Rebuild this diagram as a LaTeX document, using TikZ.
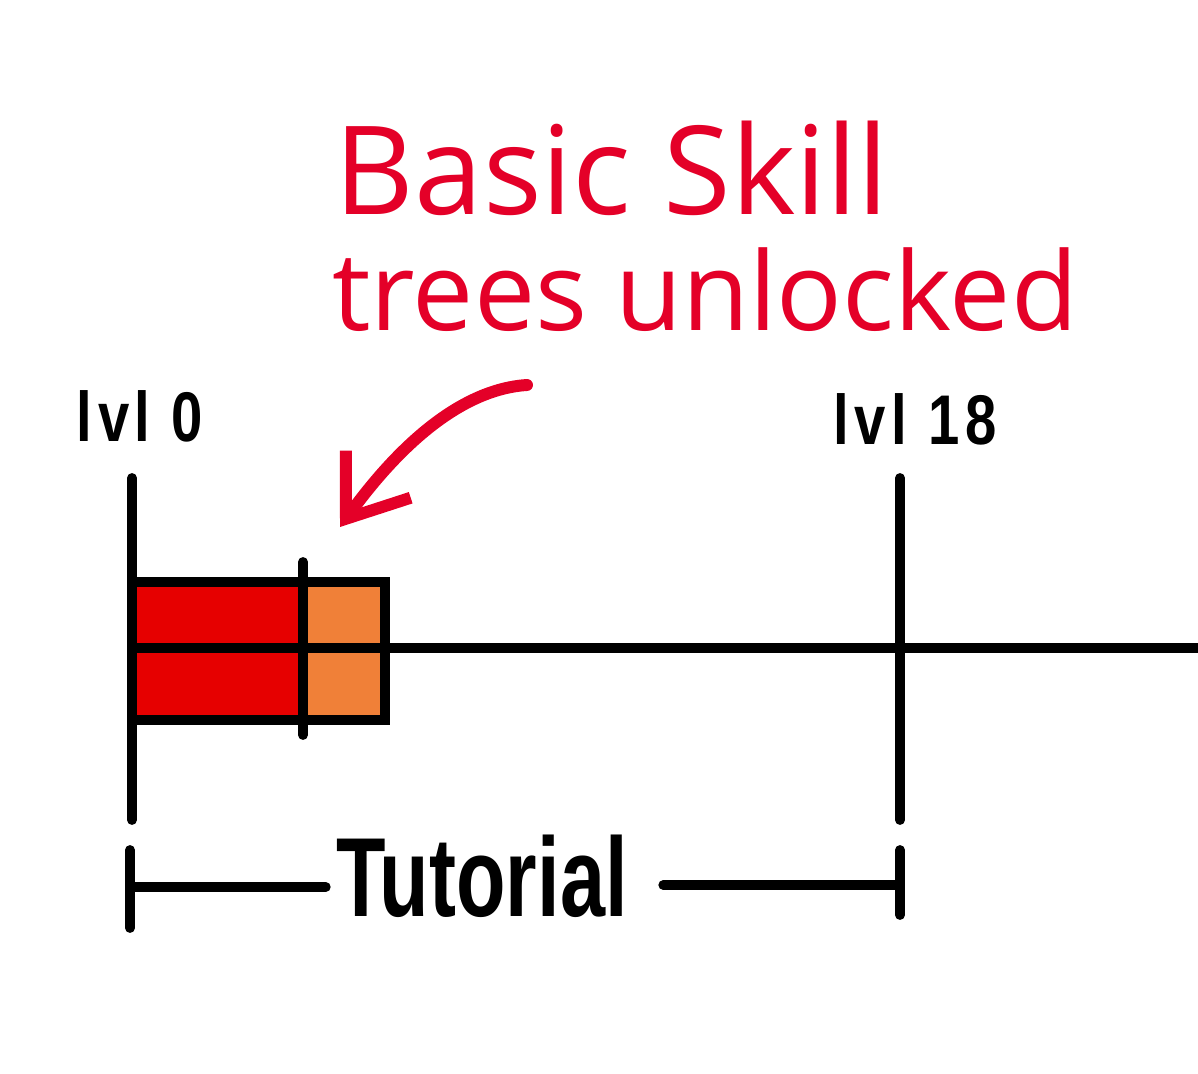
\documentclass[tikz,border=0pt]{standalone}
\usepackage{fontspec}
\setmainfont{Liberation Sans}
\newfontfamily\lvlfont[FakeStretch=0.8,LetterSpace=8,UprightFont={* Bold}]{Liberation Sans}
\newfontfamily\tutfont[FakeStretch=0.72,UprightFont={* Bold}]{Liberation Sans}
\newfontfamily\handfont{Open Sans}
\usetikzlibrary{arrows.meta, positioning}
\definecolor{barred}{RGB}{230,0,0}
\definecolor{barorange}{RGB}{240,128,56}
\definecolor{inkred}{RGB}{228,0,40}

\begin{document}
\begin{tikzpicture}[x=0.01cm, y=-0.01cm,
    rule/.style={line width=2.8pt, line cap=round},
    lvl/.style={font=\lvlfont\fontsize{20}{20}\selectfont, inner sep=0pt},
    tut/.style={font=\tutfont\fontsize{32}{32}\selectfont, inner sep=0pt},
    note/.style={text=inkred, inner sep=0pt},
    arr/.style={-{Straight Barb[length=0.55cm, width=0.8cm]}, line width=3.4pt, inkred, line cap=round}
]
    \useasboundingbox (0,0) rectangle (1198,1074);
    % level markers and axis
    \coordinate (l0top) at (132,478);
    \coordinate (l0bot) at (132,820);
    \coordinate (l18top) at (900,478);
    \coordinate (l18bot) at (900,820);
    \coordinate (axisL) at (132,648);
    \coordinate (axisR) at (1198,648);
    \filldraw[rule, fill=barred] (132,582) rectangle (303,720);
    \filldraw[rule, fill=barorange] (303,582) rectangle (385,720);
    \draw[rule] (axisL) -- (axisR);
    \draw[rule] (l0top) -- (l0bot);
    \draw[rule] (l18top) -- (l18bot);
    \draw[rule] (303,562) -- (303,735);
    \node[lvl] (lvl0) at (140,416) {lvl 0};
    \node[lvl] (lvl18) at (915,419) {lvl 18};
    % tutorial span
    \node[tut] (tutorial) at (482,876) {Tutorial};
    \coordinate (brL) at (130,887);
    \coordinate (brR) at (900,885);
    \draw[rule] (130,850) -- (130,928);
    \draw[rule] (900,850) -- (900,915);
    \draw[rule, shorten >=0.1cm] (brL) -- (brL -| tutorial.west);
    \draw[rule, shorten <=0.35cm] (brR -| tutorial.east) -- (brR);
    % note
    \node[note, font=\handfont\fontsize{35}{35}\selectfont] (basic) at (612,168) {Basic Skill};
    \node[note, font=\handfont\fontsize{31}{31}\selectfont] (trees) at (705,290) {trees unlocked};
    \coordinate (arrStart) at (527,385);
    \coordinate (arrTip) at (340,527);
    \draw[arr] (arrStart) .. controls (450,390) and (385,465) .. (arrTip);
\end{tikzpicture}
\end{document}
